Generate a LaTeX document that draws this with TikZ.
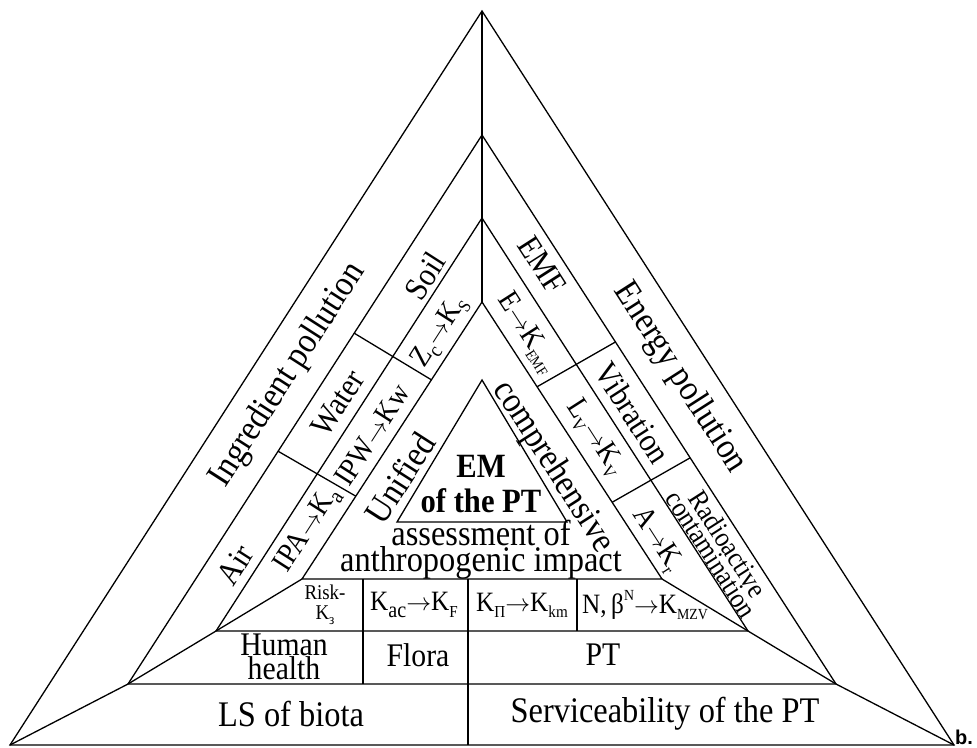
\documentclass[tikz,border=0pt]{standalone}
\usepackage{fontspec}
\setmainfont[FakeStretch=0.9]{Liberation Serif}
\newfontfamily\tagfont{Liberation Sans}
\usetikzlibrary{calc}
\newcommand\subt[2][0.6]{\raisebox{-0.22em}{\scalebox{#1}{#2}}}
\newcommand\supt[1]{\raisebox{0.45em}{\scalebox{0.55}{#1}}}
\newcommand\rarr{\ensuremath{\rightarrow}}
\tikzset{
  ln/.style     = {line width=1.3pt, line join=miter},
  tx/.style     = {inner sep=0pt, align=center, font=\fontsize{36}{24}\selectfont},
  txm/.style    = {tx, font=\fontsize{33}{24}\selectfont},
  txs/.style    = {tx, font=\fontsize{30}{22}\selectfont},
  txc/.style    = {tx, font=\fontsize{28}{22}\selectfont},
  alongl/.style = {rotate=57.3},
  alongr/.style = {rotate=-57.3},
}

\begin{document}
\begin{tikzpicture}[x=1pt, y=-1pt]
  \useasboundingbox (0,0) rectangle (977,747);
  % corners of the nested triangles
  \coordinate (A1) at (482,11);  \coordinate (L1) at (10,745);  \coordinate (R1) at (954,745);
  \coordinate (A2) at (482,135); \coordinate (L2) at (128,684); \coordinate (R2) at (836,684);
  \coordinate (A3) at (482,218); \coordinate (L3) at (216,631); \coordinate (R3) at (748,631);
  \coordinate (A4) at (482,302); \coordinate (L4) at (302,579); \coordinate (R4) at (662,579);
  \coordinate (A5) at (482,380); \coordinate (L5) at (397,522); \coordinate (R5) at (567,522);
  \foreach \i in {1,...,5}
    \draw[ln] (L\i) -- (A\i) -- (R\i) -- cycle;
  \foreach \i/\j in {1/2,2/3,3/4}{
    \draw[ln] (L\i) -- (L\j);
    \draw[ln] (R\i) -- (R\j);
  }
  \draw[ln] (A1) -- (A4);
  % cross lines in the side bands
  \draw[ln] ($(A2)!0.361!(L2)$) -- ($(A4)!0.281!(L4)$);
  \draw[ln] ($(A2)!0.576!(L2)$) -- ($(A4)!0.701!(L4)$);
  \draw[ln] ($(A2)!0.377!(R2)$) -- ($(A4)!0.306!(R4)$);
  \draw[ln] ($(A2)!0.588!(R2)$) -- ($(A4)!0.723!(R4)$);
  % cells of the bottom bands
  \foreach \x/\yb in {363/684, 468/745, 577/631}
    \draw[ln] (\x,579) -- (\x,\yb);

  % outer band
  \node[tx, alongl] (ingr) at (288,375) {Ingredient pollution};
  \node[tx, alongr] (enrg) at (680,378) {Energy pollution};
  \node[tx] (lsb) at (291,714) {LS of biota};
  \node[tx] (serv) at (665,714) {Serviceability of the PT};
  % second band
  \node[txm, alongl] (soil) at (425,276) {Soil};
  \node[txm, alongl] (watr) at (338,403) {Water};
  \node[txm, alongl] (air) at (235,565) {Air};
  \node[txm, alongr] (emf) at (542,265) {EMF};
  \node[txm, alongr] (vibr) at (633,413) {Vibration};
  \node[tx, alongr, font=\fontsize{28}{18.5}\selectfont] (radc) at (720,549)
    {Radioactive\\contamination};
  \node[txm] (hum) at (284,657) {Human\\health};
  \node[txm] (flor) at (418,655) {Flora};
  \node[txm] (pt) at (603,655) {PT};
  % third band
  \node[txs, alongl] (zks) at (440,332) {Z\subt[0.7]{c}\rarr K\subt{S}};
  \node[txs, alongl] (ikw) at (372,435) {IPW\rarr Kw};
  \node[txs, alongl] (ika) at (308,530) {IPA\rarr K\subt[0.75]{a}};
  \node[txs, alongr] (ekf) at (527,333) {E\rarr K\subt[0.5]{EMF}};
  \node[txs, alongr] (lkv) at (595,438) {L\subt{V}\rarr K\subt{V}};
  \node[txs, alongr] (akr) at (657,540) {A\rarr K\subt{r}};
  \node[tx, font=\fontsize{21}{20}\selectfont] (risk) at (325,605) {Risk-\\K\subt[0.7]{з}};
  \node[txc] (kaf) at (414,605) {K\subt[0.8]{ac}\rarr K\subt{F}};
  \node[txc] (kpk) at (522,605) {K\subt{П}\rarr K\subt{km}};
  \node[txc] (kmz) at (645,605) {N,\,β\supt{N}\rarr K\subt[0.55]{MZV}};
  % inner band
  \node[tx, alongl] (unif) at (400,478) {Unified};
  \node[tx, alongr] (comp) at (553,467) {comprehensive};
  \node[tx] (asmt) at (481,550) {assessment of\\anthropogenic impact};
  % core
  \node[tx, font=\fontsize{34}{35}\selectfont\bfseries] (em) at (481,484) {EM\\of the PT};
  \node[anchor=base west, inner sep=0pt, font=\tagfont\bfseries\fontsize{20}{20}\selectfont]
    (tag) at (955,744) {b.};
\end{tikzpicture}
\end{document}
